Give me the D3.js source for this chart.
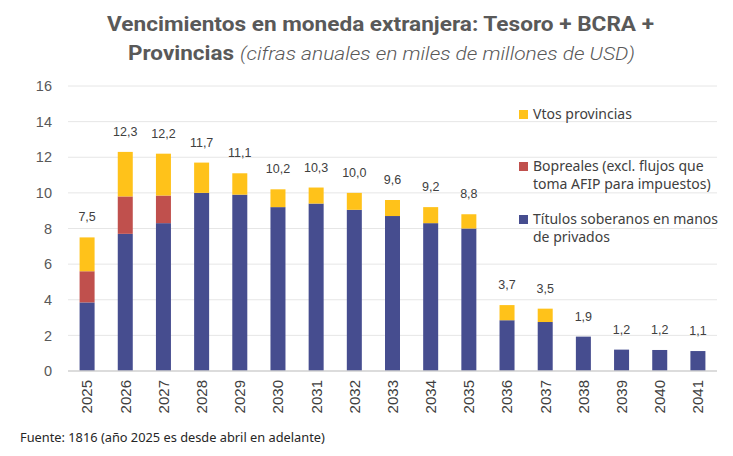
<!DOCTYPE html>
<html>
<head>
<meta charset="utf-8">
<script src="https://cdn.jsdelivr.net/npm/d3@7"></script>
<style>
    body { margin: 0; background: #ffffff; }
    svg { display: block; }
</style>
</head>
<body>
<div id="chart"></div>
<script>
// valores (miles de millones de USD)
const years = ["2025", "2026", "2027", "2028", "2029", "2030", "2031", "2032", "2033",
               "2034", "2035", "2036", "2037", "2038", "2039", "2040", "2041"];
const titulos = [3.85, 7.7, 8.3, 10.0, 9.9, 9.2, 9.4, 9.05, 8.7, 8.3, 8.0, 2.85, 2.75, 1.93, 1.2, 1.18, 1.12];
const bopreales = [1.75, 2.1, 1.55, 0, 0, 0, 0, 0, 0, 0, 0, 0, 0, 0, 0, 0, 0];
const provincias = [1.9, 2.5, 2.35, 1.7, 1.2, 1.0, 0.9, 0.95, 0.9, 0.9, 0.8, 0.85, 0.75, 0, 0, 0, 0];
const totalLabels = ["7,5", "12,3", "12,2", "11,7", "11,1", "10,2", "10,3", "10,0", "9,6",
                     "9,2", "8,8", "3,7", "3,5", "1,9", "1,2", "1,2", "1,1"];
const yTicks = [0, 2, 4, 6, 8, 10, 12, 14, 16];

const seriesKeys = ["titulos", "bopreales", "provincias"];
const seriesColors = { titulos: "#464d8f", bopreales: "#c0504d", provincias: "#ffc21a" };
const legendItems = [
    { key: "provincias", lines: ["Vtos provincias"] },
    { key: "bopreales", lines: ["Bopreales (excl. flujos que", "toma AFIP para impuestos)"] },
    { key: "titulos", lines: ["Títulos soberanos en manos", "de privados"] }
];

const width = 733, height = 456;
const margin = { top: 86, right: 16, bottom: 85, left: 68 };

let table = years.map(function(y, i) {
    return { year: y, titulos: titulos[i], bopreales: bopreales[i], provincias: provincias[i], label: totalLabels[i] };
});

let svg = d3.select("#chart")
            .append("svg")
            .attr("width", width)
            .attr("height", height);

let x = d3.scaleBand()
          .domain(years)
          .range([margin.left, width - margin.right])
          .paddingInner(0.607)
          .paddingOuter(0.3035);

let y = d3.scaleLinear()
          .domain([0, 16])
          .range([height - margin.bottom, margin.top]);

// lineas de grilla
svg.append("g")
   .selectAll("line")
   .data(yTicks.slice(1))
   .join("line")
   .attr("x1", margin.left)
   .attr("x2", width - margin.right)
   .attr("y1", function(d) { return y(d); })
   .attr("y2", function(d) { return y(d); })
   .style("stroke", "#e6e6e6")
   .style("stroke-width", "1px");

// eje y
let yAxis = d3.axisLeft(y)
              .tickValues(yTicks)
              .tickSize(0)
              .tickPadding(16);
svg.append("g")
   .attr("class", "y-axis")
   .attr("transform", `translate(${margin.left}, 0)`)
   .call(yAxis)
   .call(function(g) { g.select(".domain").remove(); })
   .selectAll("text")
   .style("font-family", "'Liberation Sans', Arial, sans-serif")
   .style("font-size", "14.5px")
   .style("fill", "#595959");

// barras apiladas
let stack = d3.stack().keys(seriesKeys);
let layers = stack(table);

svg.append("g")
   .selectAll("g")
   .data(layers)
   .join("g")
   .style("fill", function(d) { return seriesColors[d.key]; })
   .selectAll("rect")
   .data(function(d) { return d; })
   .join("rect")
   .attr("x", function(d) { return x(d.data.year); })
   .attr("width", x.bandwidth())
   .attr("y", function(d) { return y(d[1]); })
   .attr("height", function(d) { return y(d[0]) - y(d[1]); });

// eje x
svg.append("line")
   .attr("x1", margin.left)
   .attr("x2", width - margin.right)
   .attr("y1", y(0))
   .attr("y2", y(0))
   .style("stroke", "#d0d0d0")
   .style("stroke-width", "1.5px");

svg.append("g")
   .attr("class", "x-axis")
   .attr("transform", `translate(0, ${y(0)})`)
   .call(d3.axisBottom(x).tickSize(0).tickPadding(0))
   .call(function(g) { g.select(".domain").remove(); })
   .selectAll("text")
   .attr("transform", "rotate(-90)")
   .attr("x", -9)
   .attr("y", 0)
   .attr("dy", "0.36em")
   .style("text-anchor", "end")
   .style("font-family", "'Liberation Sans', Arial, sans-serif")
   .style("font-size", "15px")
   .style("fill", "#404040");

// etiquetas de totales
svg.append("g")
   .selectAll("text")
   .data(table)
   .join("text")
   .attr("x", function(d) { return x(d.year) + x.bandwidth() / 2; })
   .attr("y", function(d) { return y(d.titulos + d.bopreales + d.provincias) - 16; })
   .attr("text-anchor", "middle")
   .style("font-family", "'Liberation Sans', Arial, sans-serif")
   .style("font-size", "12.5px")
   .style("fill", "#404040")
   .text(function(d) { return d.label; });

// leyenda
let legendY = [110, 162, 215];
let legend = svg.append("g")
                .selectAll("g")
                .data(legendItems)
                .join("g")
                .attr("transform", function(d, i) { return `translate(519, ${legendY[i]})`; });

legend.append("rect")
      .attr("width", 9)
      .attr("height", 9)
      .style("fill", function(d) { return seriesColors[d.key]; });

legend.append("text")
      .attr("x", 14)
      .attr("y", 8.5)
      .style("font-family", "'Noto Sans', sans-serif")
      .style("font-size", "14px")
      .style("fill", "#404040")
      .selectAll("tspan")
      .data(function(d) { return d.lines; })
      .join("tspan")
      .attr("x", 14)
      .attr("dy", function(d, i) { return i == 0 ? 0 : 18.5; })
      .text(function(d) { return d; });

// titulo
svg.append("text")
   .attr("x", 107)
   .attr("y", 31)
   .attr("textLength", 547)
   .attr("lengthAdjust", "spacingAndGlyphs")
   .style("font-family", "Roboto, sans-serif")
   .style("font-weight", "bold")
   .style("font-size", "21px")
   .style("fill", "#595959")
   .text("Vencimientos en moneda extranjera: Tesoro + BCRA +");

svg.append("text")
   .attr("x", 128)
   .attr("y", 60)
   .attr("textLength", 106)
   .attr("lengthAdjust", "spacingAndGlyphs")
   .style("font-family", "Roboto, sans-serif")
   .style("font-weight", "bold")
   .style("font-size", "21px")
   .style("fill", "#595959")
   .text("Provincias");

svg.append("text")
   .attr("x", 240)
   .attr("y", 60)
   .attr("textLength", 395)
   .attr("lengthAdjust", "spacingAndGlyphs")
   .style("font-family", "Roboto, sans-serif")
   .style("font-style", "italic")
   .style("font-weight", "300")
   .style("font-size", "19px")
   .style("fill", "#595959")
   .text("(cifras anuales en miles de millones de USD)");

// fuente
svg.append("text")
   .attr("x", 20)
   .attr("y", 442)
   .style("font-family", "'Noto Sans', sans-serif")
   .style("font-size", "12.8px")
   .style("fill", "#262626")
   .text("Fuente: 1816 (año 2025 es desde abril en adelante)");
</script>
</body>
</html>
